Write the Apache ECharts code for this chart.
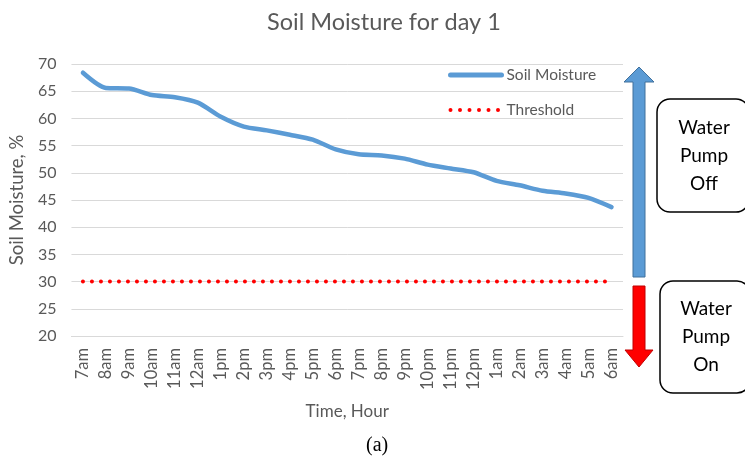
<!DOCTYPE html>
<html>
<head>
<meta charset="utf-8">
<script src="https://cdn.jsdelivr.net/npm/echarts@6/dist/echarts.min.js"></script>
<style>
  html, body { margin: 0; padding: 0; background: #fff; }
  #chart { width: 745px; height: 462px; }
</style>
</head>
<body>
<div id="chart"></div>
<script>
// hours of day 1
var hours = ["7am", "8am", "9am", "10am", "11am", "12am", "1pm", "2pm", "3pm", "4pm", "5pm", "6pm",
  "7pm", "8pm", "9pm", "10pm", "11pm", "12pm", "1am", "2am", "3am", "4am", "5am", "6am"];
// soil moisture readings, %
var moisture = [68.4, 65.6, 65.5, 64.3, 63.9, 62.9, 60.3, 58.5, 57.8, 57.0, 56.1, 54.3,
  53.4, 53.2, 52.6, 51.5, 50.8, 50.1, 48.5, 47.7, 46.7, 46.2, 45.4, 43.7];
// pump switching threshold
var thresholdValue = 30;
var threshold = hours.map(function () { return thresholdValue; });

var font = "Lato";
var grey = "#595959";

var myChart = echarts.init(document.getElementById("chart"));

// blue arrow up (pump off) and red arrow down (pump on)
function arrowUp(x, top, bottom, color, border) {
  return {
    type: "polygon",
    shape: { points: [[x - 6, bottom], [x - 6, top + 15], [x - 15, top + 15], [x, top], [x + 15, top + 15], [x + 6, top + 15], [x + 6, bottom]] },
    style: { fill: color, stroke: border, lineWidth: 1 }
  };
}
function arrowDown(x, top, bottom, color, border) {
  return {
    type: "polygon",
    shape: { points: [[x - 6, top], [x + 6, top], [x + 6, bottom - 17], [x + 14, bottom - 17], [x, bottom], [x - 14, bottom - 17], [x - 6, bottom - 17]] },
    style: { fill: color, stroke: border, lineWidth: 1 }
  };
}
function labelBox(x, y, w, h, txt) {
  return [
    { type: "rect", shape: { x: x, y: y, width: w, height: h, r: 13 }, style: { fill: "#fff", stroke: "#000", lineWidth: 1.5 } },
    { type: "text", x: x + w / 2 + 1, y: y + h / 2, style: { text: txt, fill: "#000", font: "19px " + font, align: "center", verticalAlign: "middle", lineHeight: 28 } }
  ];
}

myChart.setOption({
  animation: false,
  title: [
    { text: "Soil Moisture for day 1", left: 262, top: 5, textStyle: { fontFamily: font, fontSize: 23.5, fontWeight: "normal", color: grey } },
    { text: "(a)", left: 361, top: 431, textStyle: { fontFamily: "Liberation Serif", fontSize: 20, fontWeight: "normal", color: "#000" } }
  ],
  legend: {
    orient: "vertical",
    left: 443,
    top: 62,
    itemGap: 19,
    itemWidth: 51,
    itemHeight: 16,
    textStyle: { fontFamily: font, fontSize: 15.5, color: grey },
    data: [
      { name: "Soil Moisture", itemStyle: { opacity: 0 }, lineStyle: { width: 5, color: "#5B9BD5" } },
      { name: "Threshold", itemStyle: { opacity: 0 }, lineStyle: { width: 4, color: "#FF0000", type: [0, 9.5], cap: "round" } }
    ]
  },
  grid: { left: 67, right: 122, top: 64, bottom: 126 },
  xAxis: {
    type: "category",
    data: hours,
    boundaryGap: true,
    name: "Time, Hour",
    nameLocation: "middle",
    nameGap: 67,
    nameTextStyle: { fontFamily: font, fontSize: 17, color: grey },
    axisLine: { lineStyle: { color: "#D9D9D9" } },
    axisTick: { show: false },
    axisLabel: { rotate: 90, interval: 0, fontFamily: font, fontSize: 16.5, color: grey, margin: 12 }
  },
  yAxis: {
    type: "value",
    min: 20,
    max: 70,
    interval: 5,
    name: "Soil Moisture, %",
    nameLocation: "middle",
    nameGap: 38,
    nameTextStyle: { fontFamily: font, fontSize: 18.5, color: grey },
    axisLine: { show: false },
    axisTick: { show: false },
    axisLabel: { fontFamily: font, fontSize: 16, color: grey, margin: 15 },
    splitLine: { lineStyle: { color: "#D9D9D9", width: 1 } }
  },
  series: [
    {
      name: "Soil Moisture",
      type: "line",
      data: moisture,
      smooth: 0.25,
      symbol: "none",
      itemStyle: { color: "#5B9BD5" },
      lineStyle: { color: "#5B9BD5", width: 4.5, cap: "round", join: "round" }
    },
    {
      name: "Threshold",
      type: "line",
      data: threshold,
      symbol: "none",
      itemStyle: { color: "#FF0000" },
      lineStyle: { color: "#FF0000", width: 4, type: [0, 9], cap: "round" }
    }
  ],
  graphic: [
    arrowUp(639, 67, 277, "#5B9BD5", "#41719C"),
    arrowDown(639, 286, 367, "#FF0000", "#C00000")
  ].concat(labelBox(657, 99, 92, 113, "Water\nPump\nOff"))
   .concat(labelBox(660, 281, 90, 112, "Water\nPump\nOn"))
});
</script>
</body>
</html>
